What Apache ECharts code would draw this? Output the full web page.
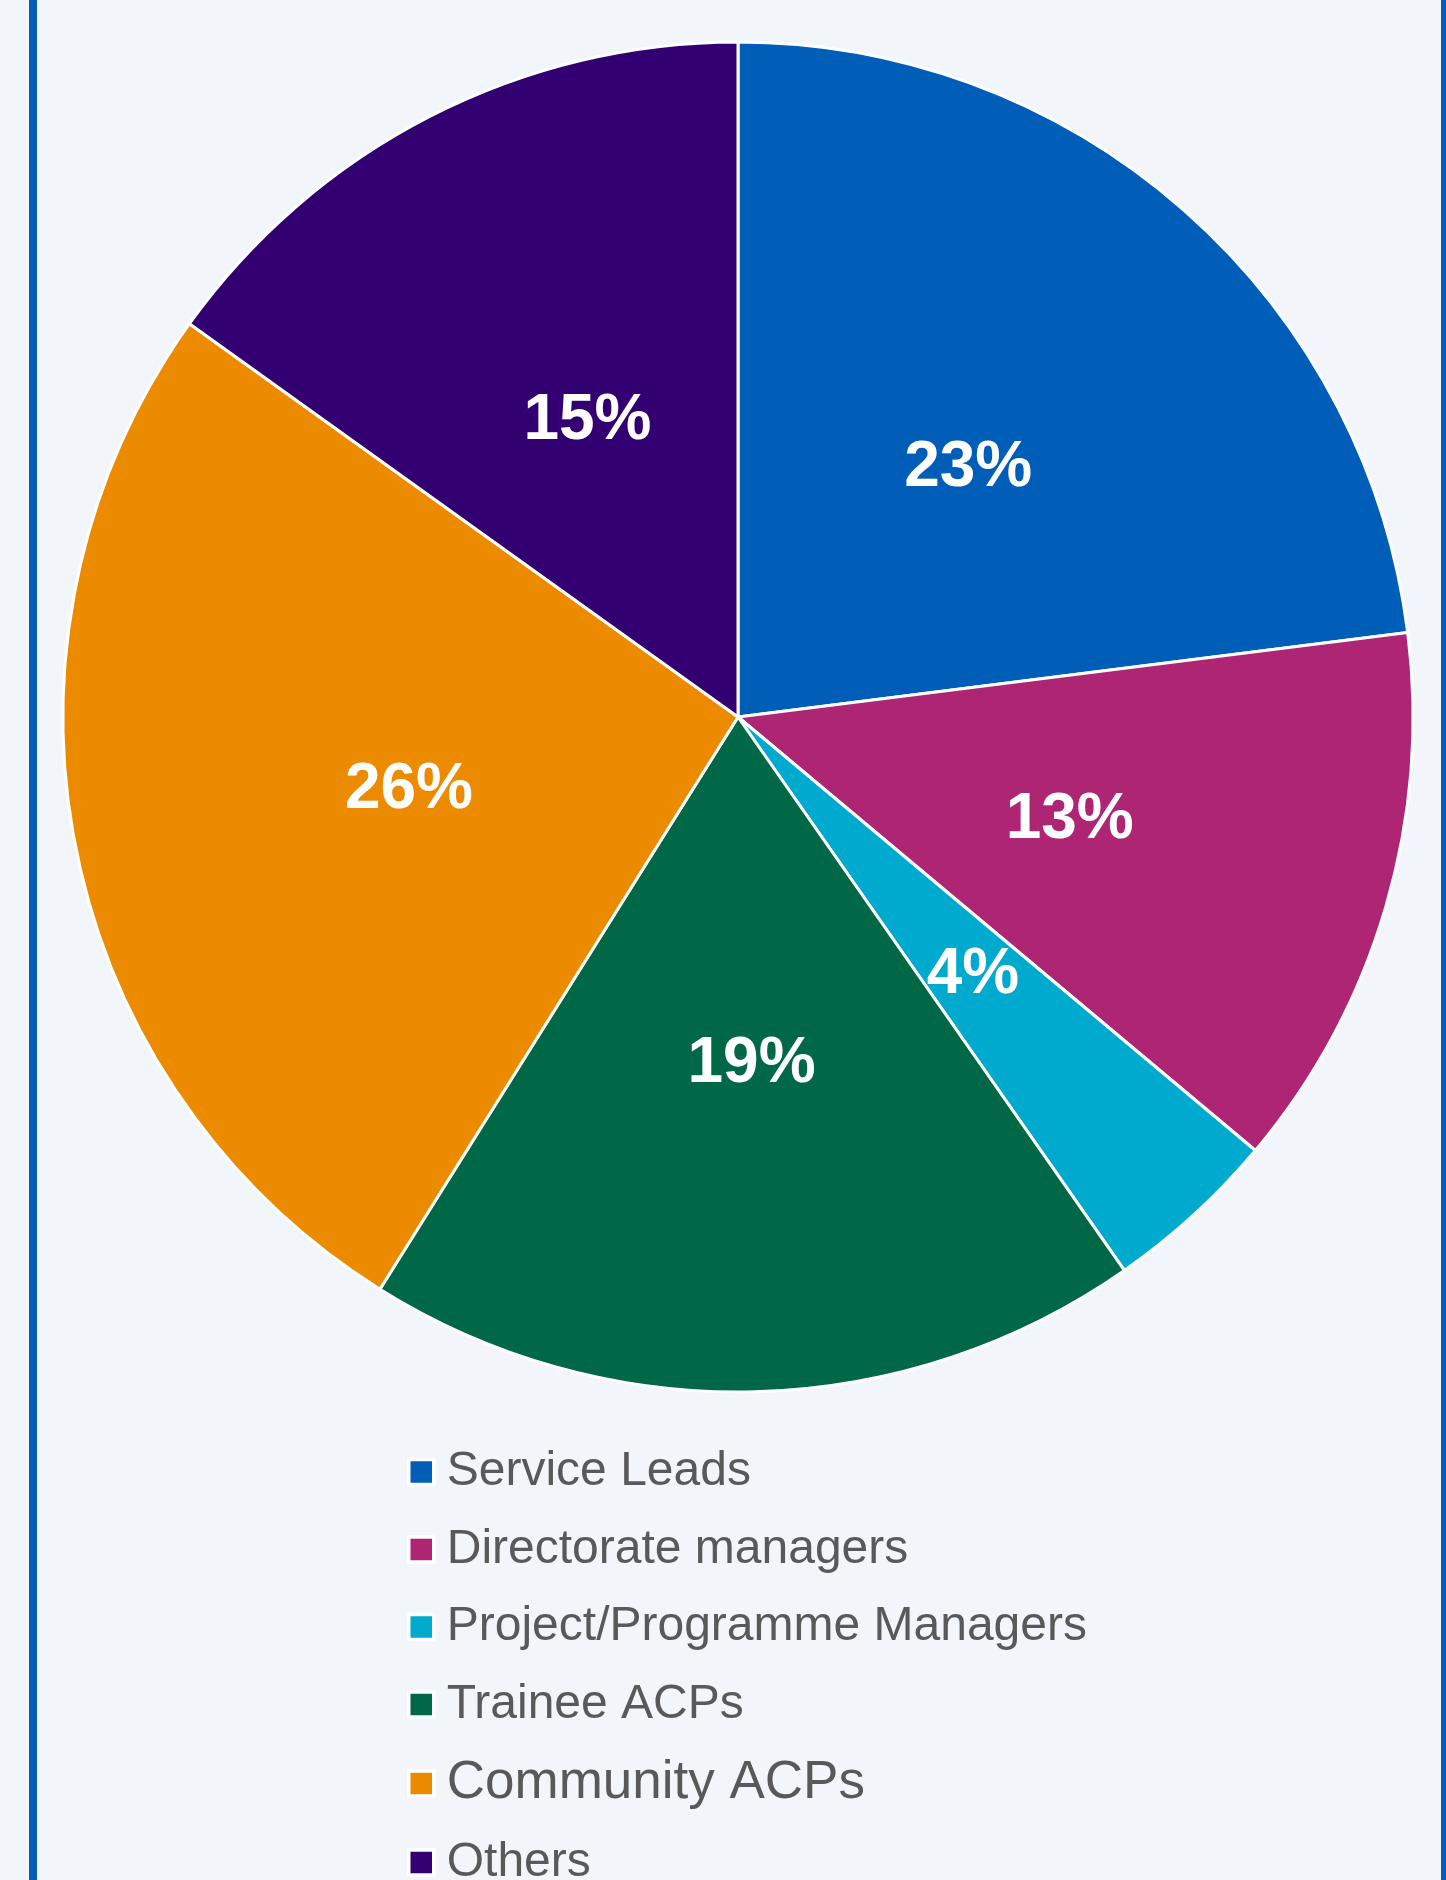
<!DOCTYPE html>
<html>
<head>
<meta charset="utf-8">
<script src="https://cdn.jsdelivr.net/npm/echarts@6/dist/echarts.min.js"></script>
<style>
html,body{margin:0;padding:0;background:#F2F6FB;}
#chart{width:1446px;height:1880px;}
</style>
</head>
<body>
<div id="chart"></div>
<script>
const categories = ['Service Leads','Directorate managers','Project/Programme Managers','Trainee ACPs','Community ACPs','Others'];
const values = [23.0, 13.1, 4.2, 18.6, 26.0, 15.1];
const colors = ['#005EB8','#AE2573','#00A9CE','#006747','#ED8B00','#330072'];
const legendFontSizes = [48, 48, 48, 48, 53, 48];

const chart = echarts.init(document.getElementById('chart'), null, {renderer:'canvas'});
chart.setOption({
  backgroundColor: '#F2F6FB',
  animation: false,
  color: colors,
  graphic: [
    {type:'rect', shape:{x:29, y:0, width:8, height:1880}, style:{fill:'#005EB8'}},
    {type:'rect', shape:{x:1441, y:0, width:8, height:1880}, style:{fill:'#005EB8'}}
  ],
  legend: {
    orient: 'vertical',
    left: 407,
    top: 1447,
    height: 1000,
    padding: 0,
    itemWidth: 25,
    itemHeight: 25,
    itemGap: 27.5,
    icon: 'rect',
    itemStyle: {borderColor:'#ffffff', borderWidth:3.5},
    textStyle: {fontFamily:'Liberation Sans, Arial, sans-serif', fontSize:48, lineHeight:50, color:'#595959', padding:[0,0,0,8]},
    data: categories.map((c,i) => ({name:c, textStyle:{fontSize:legendFontSizes[i], lineHeight:50}}))
  },
  series: [{
    type: 'pie',
    center: [738, 717],
    radius: [0, 675],
    startAngle: 90,
    clockwise: true,
    avoidLabelOverlap: false,
    itemStyle: {borderColor:'#ffffff', borderWidth:3},
    label: {
      show: true,
      position: 'inside',
      color: '#ffffff',
      fontFamily: 'Liberation Sans, Arial, sans-serif',
      fontWeight: 'bold',
      fontSize: 64,
      offset: [5, 7],
      formatter: p => Math.round(p.percent) + '%'
    },
    labelLine: {show:false},
    emphasis: {disabled:true},
    data: categories.map((c,i) => ({name:c, value:values[i]}))
  }]
});
</script>
</body>
</html>
